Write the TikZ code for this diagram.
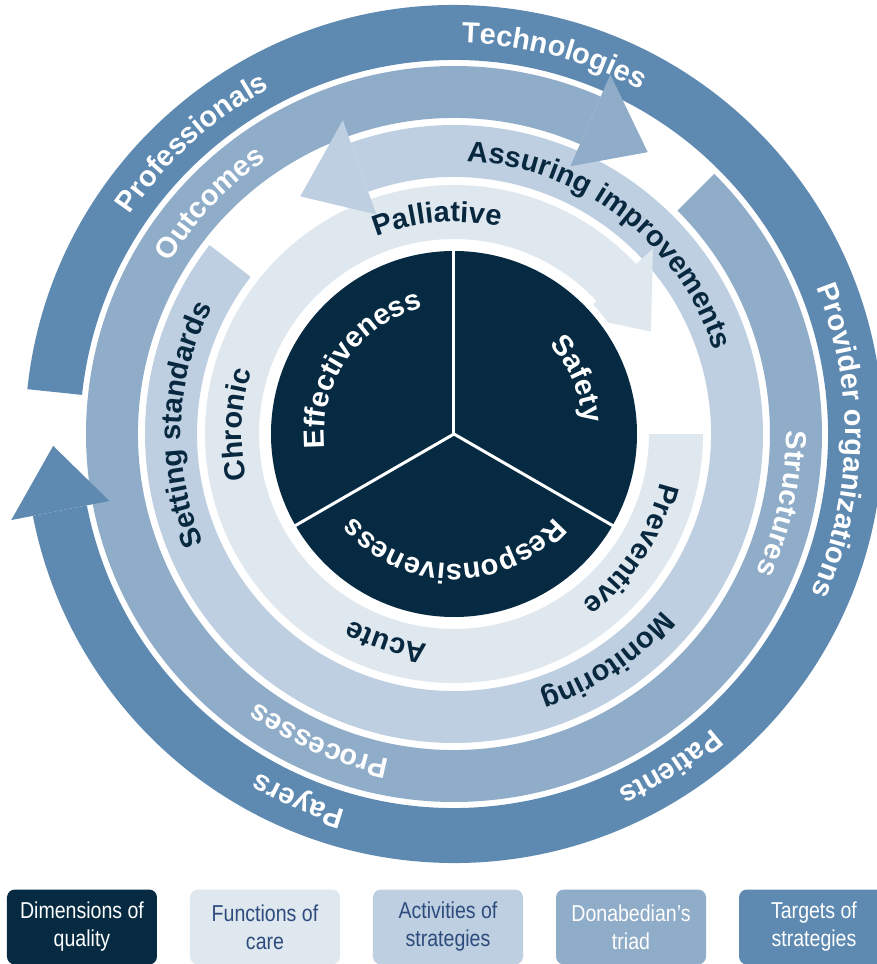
\documentclass[tikz,border=0pt]{standalone}
\usepackage{fontspec}
\setmainfont{Liberation Sans}
\newfontfamily\legendfont{Liberation Sans}[FakeStretch=0.85]
\usepackage{xcolor}
\usepackage{tikz}
\usetikzlibrary{decorations.text}

\definecolor{quality}{HTML}{052A42}
\definecolor{care}{HTML}{DFE7EF}
\definecolor{activity}{HTML}{BDCFE0}
\definecolor{triad}{HTML}{8FACC8}
\definecolor{target}{HTML}{5E8AB2}
\definecolor{navy}{HTML}{08283F}
\definecolor{legendblue}{HTML}{2D4C7D}

\newcommand{\ringfont}{\bfseries\fontsize{29}{34}\selectfont}
\newcommand{\ringtext}[4]{%
	\path[decorate, decoration={text along path, text align=center, text color=#3, text={|\ringfont|#4}}]
	({#2+75}:#1) arc[start angle={#2+75}, end angle={#2-75}, radius=#1];
}

\tikzset{
	legendbox/.style={minimum width=150pt, minimum height=75pt, inner sep=0pt, rounded corners=8pt, align=center, font=\legendfont\fontsize{23}{28}\selectfont}
}

\begin{document}
\begin{tikzpicture}[x=1pt, y=1pt]
	\path[use as bounding box, fill=white] (-454,-530) rectangle (423,434);
	
	\foreach \col/\ri/\ro/\ta/\ba in {target/374/429/174/-169, triad/316/368/45/-293.5, activity/257/309/142.3/469.5, care/195/249/0/-317}
	\fill[\col] (\ta:\ro) arc[start angle=\ta, end angle=\ba, radius=\ro] -- (\ba:\ri) arc[start angle=\ba, end angle=\ta, radius=\ri] -- cycle;
	
	\foreach \col/\rm/\ba/\tp in {target/401/-169/-178.3, triad/342/-293.5/-304.5, activity/283/469.5/482.9, care/222/-317/-332.5}
	\fill[\col] (\ba:{\rm+50}) -- (\tp:\rm) -- (\ba:{\rm-50}) -- cycle;
	
	\fill[white] (0,0) circle[radius=190];
	\fill[quality] (0,0) circle[radius=183];
	\foreach \a in {90,210,330}
	\draw[white, line width=3pt] (0,0) -- (\a:184);
	
	\ringtext{391}{75.2}{white}{Technologies}
	\ringtext{391}{132}{white}{Professionals}
	\ringtext{391}{-1}{white}{Provider organizations}
	\ringtext{391}{-57}{white}{Patients}
	\ringtext{391}{-113}{white}{Payers}
	\ringtext{332}{136.6}{white}{Outcomes}
	\ringtext{332}{-12}{white}{Structures}
	\ringtext{332}{-113.7}{white}{Processes}
	\ringtext{273}{52.5}{navy}{Assuring improvements}
	\ringtext{273}{-56}{navy}{Monitoring}
	\ringtext{273}{178}{navy}{Setting standards}
	\ringtext{212}{94.5}{navy}{Palliative}
	\ringtext{212}{177.6}{navy}{Chronic}
	\ringtext{212}{-108}{navy}{Acute}
	\ringtext{212}{-33}{navy}{Preventive}
	\ringtext{130}{145}{white}{Effectiveness}
	\ringtext{130}{24}{white}{Safety}
	\ringtext{130}{-90}{white}{Responsiveness}
	
	\foreach \i/\col/\tc/\txt in {0/quality/white/{Dimensions of\\quality}, 1/care/legendblue/{Functions of\\care}, 2/activity/legendblue/{Activities of\\strategies}, 3/triad/white/{Donabedian’s\\triad}, 4/target/white/{Targets of\\strategies}}
	\node[legendbox, fill=\col, text=\tc] (legend-\i) at ({-372+183*\i},-493) {\txt};
\end{tikzpicture}
\end{document}
